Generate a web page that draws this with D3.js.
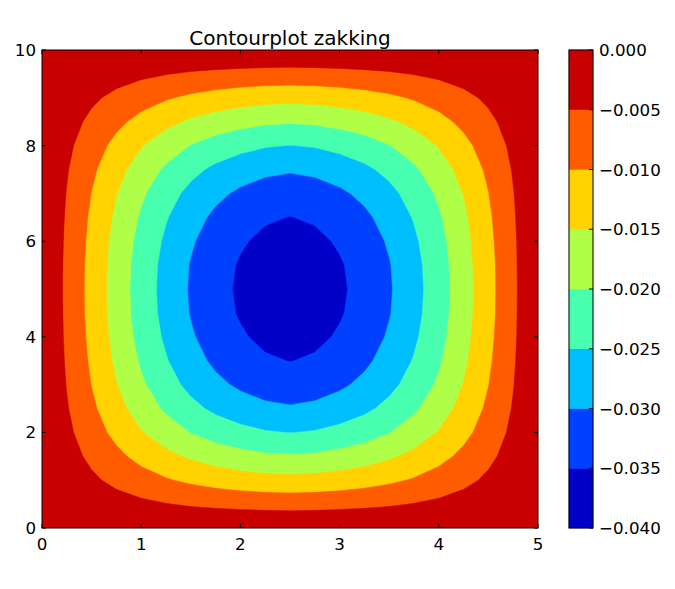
<!DOCTYPE html>
<html><head><meta charset="utf-8">
<script src="https://cdn.jsdelivr.net/npm/d3@7"></script>
<style>body{margin:0;background:#fff}svg{display:block}text{font-family:"DejaVu Sans",sans-serif}</style>
</head><body><svg id="c" width="675" height="589"></svg>
<script>
// grid coordinates
const xValues = [0,0.25,0.5,0.75,1,1.25,1.5,1.75,2,2.25,2.5,2.75,3,3.25,3.5,3.75,4,4.25,4.5,4.75,5];
const yValues = [0,0.5,1,1.5,2,2.5,3,3.5,4,4.5,5,5.5,6,6.5,7,7.5,8,8.5,9,9.5,10];
// deflection grid, rows = y (bottom to top), columns = x
const zakking = [
[0,0,0,0,0,0,0,0,0,0,0,0,0,0,0,0,0,0,0,0,0],
[0,-0.00109,-0.00213,-0.00312,-0.00405,-0.00485,-0.00554,-0.00608,-0.00648,-0.00677,-0.00690,-0.00677,-0.00648,-0.00608,-0.00554,-0.00485,-0.00405,-0.00312,-0.00213,-0.00109,0],
[0,-0.00215,-0.00419,-0.00616,-0.00798,-0.00956,-0.01092,-0.01199,-0.01278,-0.01335,-0.01360,-0.01335,-0.01278,-0.01199,-0.01092,-0.00956,-0.00798,-0.00616,-0.00419,-0.00215,0],
[0,-0.00310,-0.00604,-0.00887,-0.01150,-0.01377,-0.01573,-0.01728,-0.01841,-0.01924,-0.01960,-0.01924,-0.01841,-0.01728,-0.01573,-0.01377,-0.01150,-0.00887,-0.00604,-0.00310,0],
[0,-0.00396,-0.00773,-0.01136,-0.01473,-0.01764,-0.02015,-0.02213,-0.02358,-0.02464,-0.02510,-0.02464,-0.02358,-0.02213,-0.02015,-0.01764,-0.01473,-0.01136,-0.00773,-0.00396,0],
[0,-0.00466,-0.00908,-0.01335,-0.01731,-0.02073,-0.02368,-0.02601,-0.02771,-0.02896,-0.02950,-0.02896,-0.02771,-0.02601,-0.02368,-0.02073,-0.01731,-0.01335,-0.00908,-0.00466,0],
[0,-0.00518,-0.01010,-0.01485,-0.01925,-0.02305,-0.02633,-0.02892,-0.03082,-0.03220,-0.03280,-0.03220,-0.03082,-0.02892,-0.02633,-0.02305,-0.01925,-0.01485,-0.01010,-0.00518,0],
[0,-0.00554,-0.01081,-0.01589,-0.02060,-0.02466,-0.02817,-0.03094,-0.03298,-0.03445,-0.03510,-0.03445,-0.03298,-0.03094,-0.02817,-0.02466,-0.02060,-0.01589,-0.01081,-0.00554,0],
[0,-0.00580,-0.01130,-0.01661,-0.02154,-0.02579,-0.02946,-0.03235,-0.03448,-0.03602,-0.03670,-0.03602,-0.03448,-0.03235,-0.02946,-0.02579,-0.02154,-0.01661,-0.01130,-0.00580,0],
[0,-0.00595,-0.01161,-0.01706,-0.02212,-0.02649,-0.03026,-0.03324,-0.03542,-0.03701,-0.03770,-0.03701,-0.03542,-0.03324,-0.03026,-0.02649,-0.02212,-0.01706,-0.01161,-0.00595,0],
[0,-0.00600,-0.01170,-0.01720,-0.02230,-0.02670,-0.03050,-0.03350,-0.03570,-0.03730,-0.03800,-0.03730,-0.03570,-0.03350,-0.03050,-0.02670,-0.02230,-0.01720,-0.01170,-0.00600,0],
[0,-0.00595,-0.01161,-0.01706,-0.02212,-0.02649,-0.03026,-0.03324,-0.03542,-0.03701,-0.03770,-0.03701,-0.03542,-0.03324,-0.03026,-0.02649,-0.02212,-0.01706,-0.01161,-0.00595,0],
[0,-0.00580,-0.01130,-0.01661,-0.02154,-0.02579,-0.02946,-0.03235,-0.03448,-0.03602,-0.03670,-0.03602,-0.03448,-0.03235,-0.02946,-0.02579,-0.02154,-0.01661,-0.01130,-0.00580,0],
[0,-0.00554,-0.01081,-0.01589,-0.02060,-0.02466,-0.02817,-0.03094,-0.03298,-0.03445,-0.03510,-0.03445,-0.03298,-0.03094,-0.02817,-0.02466,-0.02060,-0.01589,-0.01081,-0.00554,0],
[0,-0.00518,-0.01010,-0.01485,-0.01925,-0.02305,-0.02633,-0.02892,-0.03082,-0.03220,-0.03280,-0.03220,-0.03082,-0.02892,-0.02633,-0.02305,-0.01925,-0.01485,-0.01010,-0.00518,0],
[0,-0.00466,-0.00908,-0.01335,-0.01731,-0.02073,-0.02368,-0.02601,-0.02771,-0.02896,-0.02950,-0.02896,-0.02771,-0.02601,-0.02368,-0.02073,-0.01731,-0.01335,-0.00908,-0.00466,0],
[0,-0.00396,-0.00773,-0.01136,-0.01473,-0.01764,-0.02015,-0.02213,-0.02358,-0.02464,-0.02510,-0.02464,-0.02358,-0.02213,-0.02015,-0.01764,-0.01473,-0.01136,-0.00773,-0.00396,0],
[0,-0.00310,-0.00604,-0.00887,-0.01150,-0.01377,-0.01573,-0.01728,-0.01841,-0.01924,-0.01960,-0.01924,-0.01841,-0.01728,-0.01573,-0.01377,-0.01150,-0.00887,-0.00604,-0.00310,0],
[0,-0.00215,-0.00419,-0.00616,-0.00798,-0.00956,-0.01092,-0.01199,-0.01278,-0.01335,-0.01360,-0.01335,-0.01278,-0.01199,-0.01092,-0.00956,-0.00798,-0.00616,-0.00419,-0.00215,0],
[0,-0.00109,-0.00213,-0.00312,-0.00405,-0.00485,-0.00554,-0.00608,-0.00648,-0.00677,-0.00690,-0.00677,-0.00648,-0.00608,-0.00554,-0.00485,-0.00405,-0.00312,-0.00213,-0.00109,0],
[0,0,0,0,0,0,0,0,0,0,0,0,0,0,0,0,0,0,0,0,0]
];
const levels = [-0.040,-0.035,-0.030,-0.025,-0.020,-0.015,-0.010,-0.005,0.000];
const levelColors = ["#0000c8","#0040ff","#00bfff","#48ffaf","#afff48","#ffd200","#ff5c00","#c80000"];
const levelLabels = ["\u22120.040","\u22120.035","\u22120.030","\u22120.025","\u22120.020","\u22120.015","\u22120.010","\u22120.005","0.000"];
const xTicks = [0,1,2,3,4,5];
const yTicks = [0,2,4,6,8,10];
const title = "Contourplot zakking";

const svg = d3.select("#c");
const L = 42, R = 538, T = 50, B = 528;
const x = d3.scaleLinear().domain([0,5]).range([L,R]);
const y = d3.scaleLinear().domain([0,10]).range([B,T]);
const nx = xValues.length, ny = yValues.length;
const ix = d3.scaleLinear().domain([0,nx-1]).range([xValues[0], xValues[nx-1]]);
const iy = d3.scaleLinear().domain([0,ny-1]).range([yValues[0], yValues[ny-1]]);

svg.append("defs").append("clipPath").attr("id","pc")
  .append("rect").attr("x",L).attr("y",T).attr("width",R-L).attr("height",B-T);

const flat = zakking.flat();
const cont = d3.contours().size([nx, ny]).thresholds(levels.slice(0,-1))(flat);
const proj = d3.geoTransform({point(px, py){ this.stream.point(x(ix(px-0.5)), y(iy(py-0.5))); }});
const path = d3.geoPath(proj);
const g = svg.append("g").attr("clip-path","url(#pc)");
g.selectAll("path").data(cont).join("path")
  .attr("d", path).attr("fill", (d,i)=>levelColors[i]).attr("stroke", (d,i)=>levelColors[i]).attr("stroke-width",0.5);

// frame
svg.append("rect").attr("x",L).attr("y",T).attr("width",R-L).attr("height",B-T)
  .attr("fill","none").attr("stroke","#000").attr("stroke-width",1);

const tl = 4;
const ax = svg.append("g").attr("stroke","#000").attr("stroke-width",1);
xTicks.forEach(t=>{
  ax.append("line").attr("x1",x(t)).attr("x2",x(t)).attr("y1",B).attr("y2",B-tl);
  ax.append("line").attr("x1",x(t)).attr("x2",x(t)).attr("y1",T).attr("y2",T+tl);
});
yTicks.forEach(t=>{
  ax.append("line").attr("y1",y(t)).attr("y2",y(t)).attr("x1",L).attr("x2",L+tl);
  ax.append("line").attr("y1",y(t)).attr("y2",y(t)).attr("x1",R).attr("x2",R-tl);
});
svg.append("g").selectAll("text").data(xTicks).join("text")
  .attr("x",d=>x(d)).attr("y",B+22).attr("text-anchor","middle").attr("font-size","16.7px").text(d=>d);
svg.append("g").selectAll("text").data(yTicks).join("text")
  .attr("x",L-6).attr("y",d=>y(d)+6).attr("text-anchor","end").attr("font-size","16.7px").text(d=>d);
svg.append("text").attr("x",(L+R)/2).attr("y",45).attr("text-anchor","middle").attr("font-size","20px").text(title);

// colorbar
const CL = 569, CR = 593;
const cy = d3.scaleLinear().domain([levels[0], levels[levels.length-1]]).range([B,T]);
const cb = svg.append("g");
cb.selectAll("rect").data(levelColors).join("rect")
  .attr("x",CL).attr("width",CR-CL)
  .attr("y",(d,i)=>cy(levels[i+1])).attr("height",(d,i)=>cy(levels[i])-cy(levels[i+1]))
  .attr("fill",d=>d).attr("stroke",d=>d).attr("stroke-width",0.5);
cb.append("rect").attr("x",CL).attr("y",T).attr("width",CR-CL).attr("height",B-T)
  .attr("fill","none").attr("stroke","#000");
levels.forEach((lv,i)=>{
  cb.append("line").attr("x1",CR).attr("x2",CR-tl).attr("y1",cy(lv)).attr("y2",cy(lv)).attr("stroke","#000");
  cb.append("text").attr("x",CR+6).attr("y",cy(lv)+6).attr("font-size","16.7px").text(levelLabels[i]);
});
</script></body></html>
